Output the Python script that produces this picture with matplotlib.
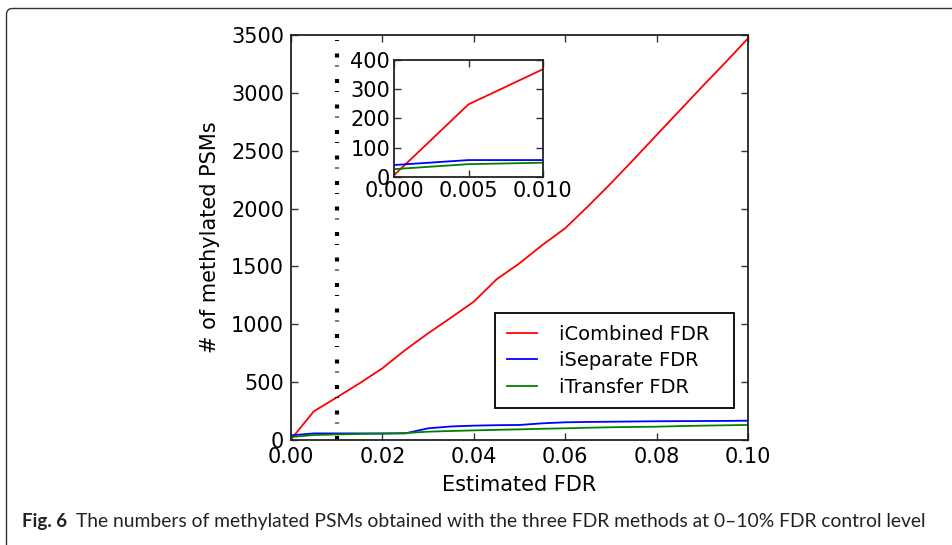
import numpy as np
import matplotlib
matplotlib.use("Agg")
import matplotlib.pyplot as plt
from matplotlib.patches import FancyBboxPatch

# ---- data ----
fdr = [0.000, 0.005, 0.010, 0.015, 0.020, 0.025, 0.030, 0.035, 0.040, 0.045,
       0.050, 0.055, 0.060, 0.065, 0.070, 0.075, 0.080, 0.085, 0.090, 0.095, 0.100]
icombined = [6, 248, 368, 490, 620, 778, 922, 1057, 1195, 1389,
             1527, 1685, 1830, 2020, 2218, 2425, 2636, 2845, 3055, 3260, 3471]
iseparate = [40, 57, 57, 57, 57, 57, 101, 117, 124, 128,
             130, 144, 153, 156, 158, 160, 162, 163, 164, 165, 167]
itransfer = [26, 43, 48, 52, 55, 60, 72, 78, 83, 88,
             92, 97, 101, 106, 110, 113, 115, 120, 124, 127, 130]
series_names = ["iCombined FDR", "iSeparate FDR", "iTransfer FDR"]
threshold = 0.01
main_xticks = [0.00, 0.02, 0.04, 0.06, 0.08, 0.10]
main_yticks = [0, 500, 1000, 1500, 2000, 2500, 3000, 3500]
inset_xticks = [0.000, 0.005, 0.010]
inset_yticks = [0, 100, 200, 300, 400]
caption_bold = "Fig. 6"
caption_text = "The numbers of methylated PSMs obtained with the three FDR methods at 0\u201310% FDR control level"

plt.rcParams['font.family'] = ['DejaVu Sans']
plt.rcParams['lines.scale_dashes'] = False

W, H = 953, 545
fig = plt.figure(figsize=(W / 100, H / 100), dpi=100)

def px_axes(l, t, r, b):
    return [l / W, (H - b) / H, (r - l) / W, (b - t) / H]

colors = ['#ff0000', '#0000ff', '#008000']
series = [icombined, iseparate, itransfer]

def style_axes(ax):
    for s in ax.spines.values():
        s.set_linewidth(1.3)
        s.set_color('#222222')
    ax.tick_params(direction='in', top=True, right=True, length=5, width=1,
                   labelsize=15, pad=5, color='#333333')

ax = fig.add_axes(px_axes(291, 35, 748, 440))
for y, c, n in zip(series, colors, series_names):
    ax.plot(fdr, y, color=c, lw=1.3, label=n + "  ")
vl = ax.axvline(threshold, color='black', lw=3.0)
vl.set_dashes([2.88, 9.0, 0.72, 5.76])
vl.set_dash_capstyle('butt')
ax.set_xlim(0, 0.1)
ax.set_ylim(0, 3500)
ax.set_xticks(main_xticks)
ax.set_xticklabels([f"{v:.2f}" for v in main_xticks])
ax.set_yticks(main_yticks)
ax.set_yticklabels([str(v) for v in main_yticks])
style_axes(ax)
ax.set_xlabel("Estimated FDR", fontsize=15, labelpad=6)
ax.set_ylabel("# of methylated PSMs", fontsize=15, labelpad=8)
leg = ax.legend(loc='lower right', bbox_to_anchor=(0.9694, 0.0783), fontsize=14,
                fancybox=False, framealpha=1, edgecolor='black',
                handlelength=1.55, handletextpad=1.15, borderpad=0.6,
                labelspacing=0.38, borderaxespad=0)
leg.get_frame().set_linewidth(1.3)

ins = fig.add_axes(px_axes(394.3, 60, 542.7, 176.7))
for y, c in zip(series, colors):
    ins.plot(fdr[:3], y[:3], color=c, lw=1.3)
ins.set_xlim(0, 0.01)
ins.set_ylim(0, 400)
ins.set_xticks(inset_xticks)
ins.set_xticklabels([f"{v:.3f}" for v in inset_xticks])
ins.set_yticks(inset_yticks)
ins.set_yticklabels([str(v) for v in inset_yticks])
style_axes(ins)
ins.tick_params(pad=3)

# journal frame
frame = FancyBboxPatch((6.5, -20), 1000, H - 8 + 20 - 0.5,
                       boxstyle="round,pad=0,rounding_size=6",
                       transform=None, fill=False, edgecolor='#333333', lw=1.0)
fig.patches.append(frame)

cap_font = ['Lato', 'DejaVu Sans']
fig.text(22 / W, (H - 521) / H, caption_bold, fontsize=13.5, fontweight='bold',
         family=cap_font, va='center', ha='left', color='#222222')
t2 = fig.text(76 / W, (H - 521) / H, caption_text, fontsize=12.5,
              family=cap_font, va='center', ha='left', color='#222222')
fig.canvas.draw()
bb = t2.get_window_extent()
target = 930 - 76
t2.set_fontsize(12.5 * target / bb.width)

fig.savefig("out.png", dpi=100)
